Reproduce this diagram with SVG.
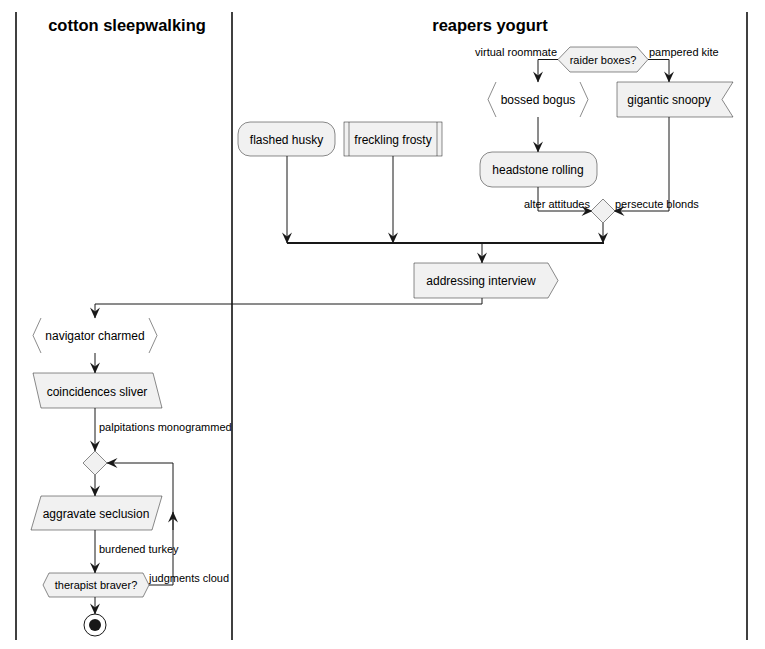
<svg xmlns="http://www.w3.org/2000/svg" width="765" height="649" viewBox="0 0 765 649">
<defs>
<style>
.lane{stroke:#000;stroke-width:1.5;fill:none}
.title{font-family:"Liberation Sans",Arial,sans-serif;font-size:16.5px;font-weight:bold;fill:#000;text-anchor:middle}
.node{fill:#F1F1F1;stroke:#181818;stroke-width:0.5}
.br{fill:none;stroke:#181818;stroke-width:0.5}
.t{font-family:"Liberation Sans",Arial,sans-serif;font-size:12px;fill:#000;text-anchor:middle}
.ts{font-family:"Liberation Sans",Arial,sans-serif;font-size:11px;fill:#000;text-anchor:middle}
.el{font-family:"Liberation Sans",Arial,sans-serif;font-size:11px;fill:#000}
.e{fill:none;stroke:#181818;stroke-width:1}
.bar{fill:none;stroke:#181818;stroke-width:2}
</style>
<marker id="ah" viewBox="0 0 12 12" refX="11" refY="6" markerWidth="12" markerHeight="12" markerUnits="userSpaceOnUse" orient="auto">
<path d="M11.5,6 L0.5,1 L4.5,6 L0.5,11 Z" fill="#181818"/>
</marker>
</defs>
<g id="lanes">
<line class="lane" x1="16" y1="12" x2="16" y2="640"/>
<line class="lane" x1="232" y1="12" x2="232" y2="640"/>
<line class="lane" x1="747" y1="12" x2="747" y2="640"/>
<text class="title" x="127" y="31">cotton sleepwalking</text>
<text class="title" x="490" y="31">reapers yogurt</text>
</g>
<g id="connectors">
<polyline class="e" points="558,59.5 538,59.5 538,82" marker-end="url(#ah)"/>
<text class="el" x="557" y="56" text-anchor="end">virtual roommate</text>
<polyline class="e" points="648,59.5 669,59.5 669,82" marker-end="url(#ah)"/>
<text class="el" x="649" y="56">pampered kite</text>
<line class="e" x1="538" y1="117" x2="538" y2="152" marker-end="url(#ah)"/>
<polyline class="e" points="538,187 538,211 592,211" marker-end="url(#ah)"/>
<text class="el" x="590" y="208" text-anchor="end">alter attitudes</text>
<polyline class="e" points="669,117 669,211 614,211" marker-end="url(#ah)"/>
<text class="el" x="615" y="208">persecute blonds</text>
<line class="e" x1="603" y1="223" x2="603" y2="243" marker-end="url(#ah)"/>
<line class="e" x1="287" y1="156" x2="287" y2="243" marker-end="url(#ah)"/>
<line class="e" x1="393" y1="156" x2="393" y2="243" marker-end="url(#ah)"/>
<line class="bar" x1="287" y1="243" x2="604" y2="243"/>
<line class="e" x1="482" y1="243" x2="482" y2="263" marker-end="url(#ah)"/>
<polyline class="e" points="482,298 482,304 95,304 95,318" marker-end="url(#ah)"/>
<line class="e" x1="95" y1="353" x2="95" y2="373" marker-end="url(#ah)"/>
<line class="e" x1="95" y1="408" x2="95" y2="451" marker-end="url(#ah)"/>
<text class="el" x="99" y="431">palpitations monogrammed</text>
<line class="e" x1="95" y1="475" x2="95" y2="496" marker-end="url(#ah)"/>
<line class="e" x1="95" y1="530" x2="95" y2="573" marker-end="url(#ah)"/>
<text class="el" x="99" y="553">burdened turkey</text>
<polyline class="e" points="149,585 173,585 173,463 107,463" marker-end="url(#ah)"/>
<line class="e" x1="173" y1="530" x2="173" y2="512" marker-end="url(#ah)"/>
<text class="el" x="149" y="582">judgments cloud</text>
<line class="e" x1="95" y1="597" x2="95" y2="614" marker-end="url(#ah)"/>
</g>
<g id="raider-boxes">
<polygon class="node" points="558,59.5 570,47 637,47 648,59.5 637,72 570,72"/>
<text class="ts" x="603" y="63.5">raider boxes?</text>
</g>
<g id="bossed-bogus">
<polyline class="br" points="496,82 488,99.5 496,117"/>
<polyline class="br" points="580,82 588,99.5 580,117"/>
<text class="t" x="538" y="104">bossed bogus</text>
</g>
<g id="gigantic-snoopy">
<polygon class="node" points="617,82 733,82 722,99.5 733,117 617,117"/>
<text class="t" x="669" y="104">gigantic snoopy</text>
</g>
<g id="headstone-rolling">
<rect class="node" x="480" y="152" width="117" height="35" rx="12" ry="12"/>
<text class="t" x="538" y="174">headstone rolling</text>
</g>
<g id="merge-diamond">
<polygon class="node" points="603,199 615,211 603,223 591,211"/>
</g>
<g id="flashed-husky">
<rect class="node" x="238" y="122" width="97" height="34" rx="12" ry="12"/>
<text class="t" x="286.5" y="143.5">flashed husky</text>
</g>
<g id="freckling-frosty">
<rect class="node" x="344" y="122" width="98" height="34"/>
<line class="br" x1="349" y1="122" x2="349" y2="156"/>
<line class="br" x1="437" y1="122" x2="437" y2="156"/>
<text class="t" x="393" y="143.5">freckling frosty</text>
</g>
<g id="addressing-interview">
<polygon class="node" points="414,263 548,263 558,280.5 548,298 414,298"/>
<text class="t" x="481" y="285">addressing interview</text>
</g>
<g id="navigator-charmed">
<polyline class="br" points="41,318 33,335.5 41,353"/>
<polyline class="br" points="149,318 157,335.5 149,353"/>
<text class="t" x="95" y="340">navigator charmed</text>
</g>
<g id="coincidences-sliver">
<polygon class="node" points="33,373 153,373 162,408 41,408"/>
<text class="t" x="97" y="395.5">coincidences sliver</text>
</g>
<g id="loop-diamond">
<polygon class="node" points="95,451 107,463 95,475 83,463"/>
</g>
<g id="aggravate-seclusion">
<polygon class="node" points="41,496 162,496 152,530 31,530"/>
<text class="t" x="96" y="517.5">aggravate seclusion</text>
</g>
<g id="therapist-braver">
<polygon class="node" points="43,585 49,573 143,573 149,585 143,597 49,597"/>
<text class="ts" x="96" y="589">therapist braver?</text>
</g>
<g id="end">
<circle cx="95" cy="625" r="11" fill="none" stroke="#181818" stroke-width="1"/>
<circle cx="95" cy="625" r="6" fill="#181818"/>
</g>
</svg>
